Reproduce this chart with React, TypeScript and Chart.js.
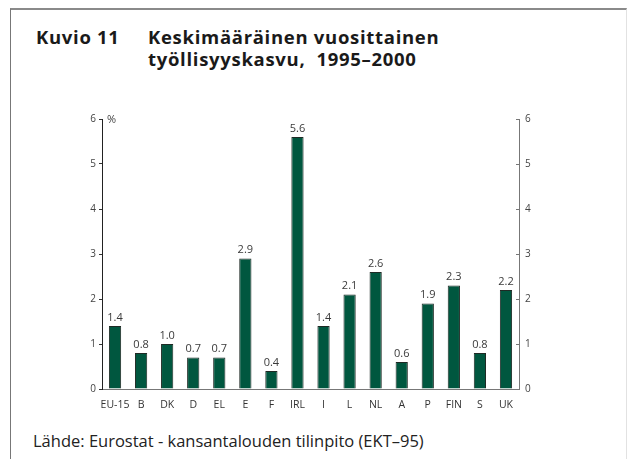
import React, { useEffect, useRef } from "react";
import { Chart, registerables } from "chart.js";

Chart.register(...registerables);

const categories = ["EU-15", "B", "DK", "D", "EL", "E", "F", "IRL", "I", "L", "NL", "A", "P", "FIN", "S", "UK"];
const growth = [1.4, 0.8, 1.0, 0.7, 0.7, 2.9, 0.4, 5.6, 1.4, 2.1, 2.6, 0.6, 1.9, 2.3, 0.8, 2.2];
const yMin = 0;
const yMax = 6;
const yStep = 1;

const FONT = "'Open Sans', 'Noto Sans', sans-serif";

const labelPlugin = {
  id: "barLabels",
  afterDatasetsDraw(chart: any) {
    const ctx = chart.ctx;
    const meta = chart.getDatasetMeta(0);
    ctx.save();
    ctx.font = `11px ${FONT}`;
    ctx.fillStyle = "#3a3a3a";
    ctx.textAlign = "center";
    ctx.textBaseline = "bottom";
    meta.data.forEach((bar: any, i: number) => {
      ctx.fillText(growth[i].toFixed(1), bar.x, bar.y - 3);
    });
    const ys = chart.scales.y;
    ctx.textAlign = "left";
    ctx.textBaseline = "middle";
    ctx.font = `11px ${FONT}`;
    ctx.fillStyle = "#444";
    ctx.fillText("%", ys.right + 5, ys.getPixelForValue(yMax) + 1);
    // inward tick marks on the right axis
    const y2 = chart.scales.y2;
    ctx.strokeStyle = "#777";
    ctx.lineWidth = 1;
    y2.ticks.forEach((t: any) => {
      const py = Math.round(y2.getPixelForValue(t.value)) + 0.5;
      ctx.beginPath();
      ctx.moveTo(y2.left - 3, py);
      ctx.lineTo(y2.left, py);
      ctx.stroke();
    });
    ctx.restore();
  },
};

export default function App() {
  const ref = useRef<HTMLCanvasElement | null>(null);
  useEffect(() => {
    if (!ref.current) return;
    const chart = new Chart(ref.current, {
      type: "bar",
      data: {
        labels: categories,
        datasets: [
          {
            data: growth,
            backgroundColor: "#00573F",
            borderColor: "#1f2a25",
            borderWidth: 1,
            borderSkipped: "bottom",
            barPercentage: 0.47,
            categoryPercentage: 1,
            yAxisID: "y",
          },
        ],
      },
      options: {
        responsive: false,
        animation: false,
        devicePixelRatio: 1,
        layout: { padding: { top: 14, left: 0, right: 0, bottom: 0 } },
        plugins: { legend: { display: false }, tooltip: { enabled: false }, title: { display: false } },
        scales: {
          x: {
            grid: { display: false, drawTicks: false },
            border: { display: true, color: "#777", width: 1 },
            ticks: { font: { family: FONT, size: 10.5 }, color: "#333", padding: 10, maxRotation: 0, autoSkip: false },
            afterFit: (s: any) => { s.height = 26; },
          },
          y: {
            position: "left",
            min: yMin,
            max: yMax,
            grid: { drawOnChartArea: false, drawTicks: true, tickLength: 3, color: "#333" },
            border: { display: true, color: "#222", width: 1 },
            ticks: { stepSize: yStep, font: { family: FONT, size: 10 }, color: "#444", padding: 3 },
            afterFit: (s: any) => { s.width = 42; },
          },
          y2: {
            position: "right",
            min: yMin,
            max: yMax,
            grid: { drawOnChartArea: false, drawTicks: false, tickLength: 0, color: "#777" },
            border: { display: true, color: "#777", width: 1 },
            ticks: { stepSize: yStep, font: { family: FONT, size: 10 }, color: "#444", padding: 6 },
            afterFit: (s: any) => { s.width = 41; },
          },
        },
      },
      plugins: [labelPlugin],
    });
    return () => chart.destroy();
  }, []);

  const titleStyle: React.CSSProperties = {
    position: "absolute",
    top: 26,
    fontWeight: 700,
    fontSize: 18.5,
    letterSpacing: 0.7,
    lineHeight: "22px",
    color: "#1a1a1a",
    whiteSpace: "nowrap",
  };

  return (
    <div style={{ position: "absolute", left: 0, top: 0, width: 629, height: 459, background: "#fff", overflow: "hidden", fontFamily: FONT }}>
      <div
        style={{
          position: "absolute",
          left: 10,
          top: 8,
          width: 617,
          height: 470,
          borderTop: "2px solid #8a8a8a",
          borderLeft: "1px solid #777",
          borderRight: "1px solid #e2e2e2",
          boxSizing: "border-box",
        }}
      />
      <div style={{ ...titleStyle, left: 36 }}>Kuvio 11</div>
      <div style={{ ...titleStyle, left: 148 }}>
        Keskimääräinen vuosittainen
        <br />
        työllisyyskasvu,&nbsp; 1995–2000
      </div>
      <canvas ref={ref} width={500} height={310} style={{ position: "absolute", left: 60, top: 105, width: 500, height: 310 }} />
      <div style={{ position: "absolute", left: 33, top: 430, fontSize: 16.5, lineHeight: "22px", color: "#222", whiteSpace: "nowrap" }}>
        Lähde: Eurostat - kansantalouden tilinpito (EKT–95)
      </div>
    </div>
  );
}
